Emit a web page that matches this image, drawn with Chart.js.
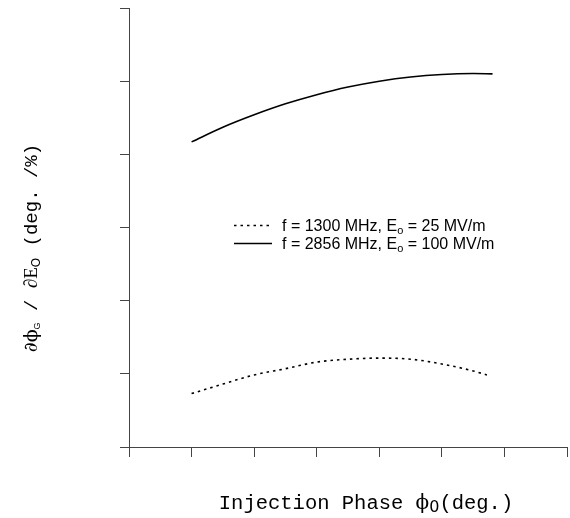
<!DOCTYPE html>
<html>
<head>
<meta charset="utf-8">
<script src="https://cdn.jsdelivr.net/npm/chart.js@4/dist/chart.umd.min.js"></script>
<style>
  html, body { margin: 0; padding: 0; background: #fff; }
  canvas { display: block; }
</style>
</head>
<body>
<canvas id="chart" width="570" height="518"></canvas>
<script>
// injection phase (deg.) and sensitivity
const phase1300 = [10, 15, 20, 25, 30, 35, 40, 45, 50, 55, 57.2];
const sens1300 = [0.73, 0.86, 0.985, 1.07, 1.16, 1.2, 1.215, 1.2, 1.135, 1.04, 0.985];
const phase2856 = [10, 15, 20, 25, 30, 35, 40, 45, 50, 55, 58.1];
const sens2856 = [4.17, 4.37, 4.54, 4.69, 4.815, 4.92, 5.0, 5.058, 5.092, 5.104, 5.1];

// legend text, split round the subscript
const legendParts = [
  ['f = 1300 MHz, E', 'o', ' = 25 MV/m'],
  ['f = 2856 MHz, E', 'o', ' = 100 MV/m']
];

const xTicks = { min: 0, max: 70, step: 10 };
const yTicks = { min: 0, max: 6, step: 1 };

const toPoints = (xs, ys) => xs.map((x, i) => ({ x: x, y: ys[i] }));

// titles and legend, drawn by hand because of the sub-scripts
const titlePlugin = {
  id: 'titles',
  afterDraw(chart) {
    const ctx = chart.ctx;
    ctx.save();
    ctx.fillStyle = '#000';
    ctx.textBaseline = 'alphabetic';

    // x title
    const xParts = [
      { t: 'Injection Phase ', f: '20.5px "Liberation Mono"', dy: 0 },
      { t: 'ϕ', f: '20px "DejaVu Serif"', dy: 0 },
      { t: '0', f: '16px "DejaVu Sans"', dy: 3 },
      { t: '(deg.)', f: '20.5px "Liberation Mono"', dy: 0 }
    ];
    drawParts(ctx, xParts, 366, 509);

    // y title, rotated
    ctx.save();
    ctx.translate(37, 248);
    ctx.rotate(-Math.PI / 2);
    const yParts = [
      { t: '∂ϕ', f: '19px "DejaVu Serif"', dy: 0 },
      { t: 'G', f: '9px "Liberation Sans"', dy: 3 },
      { t: ' / ', f: '19px "Liberation Mono"', dy: 0 },
      { t: '∂E', f: '19px "Liberation Serif"', dy: 0 },
      { t: 'O', f: '12px "Liberation Sans"', dy: 3 },
      { t: ' (deg. /%)', f: '19px "Liberation Mono"', dy: 0 }
    ];
    drawParts(ctx, yParts, 0, 0);
    ctx.restore();

    // legend
    const rows = [225, 243];
    chart.data.datasets.forEach((ds, i) => {
      const y = rows[i];
      ctx.beginPath();
      ctx.strokeStyle = '#000';
      ctx.lineWidth = 1.3;
      ctx.setLineDash(ds.borderDash || []);
      ctx.moveTo(234, y + 0.5);
      ctx.lineTo(272, y + 0.5);
      ctx.stroke();
      ctx.setLineDash([]);
      const p = legendParts[i];
      ctx.textAlign = 'left';
      let x = 282;
      ctx.font = '16px "Liberation Sans"';
      ctx.fillText(p[0], x, y + 6);
      x += ctx.measureText(p[0]).width;
      ctx.font = '11px "Liberation Sans"';
      ctx.fillText(p[1], x, y + 9);
      x += ctx.measureText(p[1]).width;
      ctx.font = '16px "Liberation Sans"';
      ctx.fillText(p[2], x, y + 6);
    });
    ctx.restore();
  }
};

function drawParts(ctx, parts, cx, baseY) {
  let total = 0;
  parts.forEach(p => { ctx.font = p.f; total += ctx.measureText(p.t).width; });
  let x = cx - total / 2;
  ctx.textAlign = 'left';
  parts.forEach(p => {
    ctx.font = p.f;
    ctx.fillText(p.t, x, baseY + p.dy);
    x += ctx.measureText(p.t).width;
  });
}

new Chart(document.getElementById('chart'), {
  type: 'line',
  data: {
    datasets: [
      {
        label: 'f = 1300 MHz, Eo = 25 MV/m',
        data: toPoints(phase1300, sens1300),
        borderColor: '#000',
        borderWidth: 1.6,
        borderDash: [2.5, 4],
        pointRadius: 0,
        cubicInterpolationMode: 'monotone',
        fill: false
      },
      {
        label: 'f = 2856 MHz, Eo = 100 MV/m',
        data: toPoints(phase2856, sens2856),
        borderColor: '#000',
        borderWidth: 1.6,
        pointRadius: 0,
        cubicInterpolationMode: 'monotone',
        fill: false
      }
    ]
  },
  options: {
    responsive: false,
    animation: false,
    devicePixelRatio: 1,
    layout: { padding: { top: 8, right: 3, left: 0, bottom: 0 } },
    plugins: {
      legend: { display: false },
      tooltip: { enabled: false }
    },
    scales: {
      x: {
        type: 'linear',
        min: xTicks.min,
        max: xTicks.max,
        ticks: { display: false, stepSize: xTicks.step },
        grid: { drawOnChartArea: false, drawTicks: true, tickLength: 10, color: '#444', lineWidth: 1 },
        border: { display: true, color: '#444', width: 1 },
        afterFit(scale) { scale.height = 71; }
      },
      y: {
        type: 'linear',
        min: yTicks.min,
        max: yTicks.max,
        ticks: { display: false, stepSize: yTicks.step },
        grid: { drawOnChartArea: false, drawTicks: true, tickLength: 9, color: '#444', lineWidth: 1 },
        border: { display: true, color: '#444', width: 1 },
        afterFit(scale) { scale.width = 129; }
      }
    }
  },
  plugins: [titlePlugin]
});
</script>
</body>
</html>
